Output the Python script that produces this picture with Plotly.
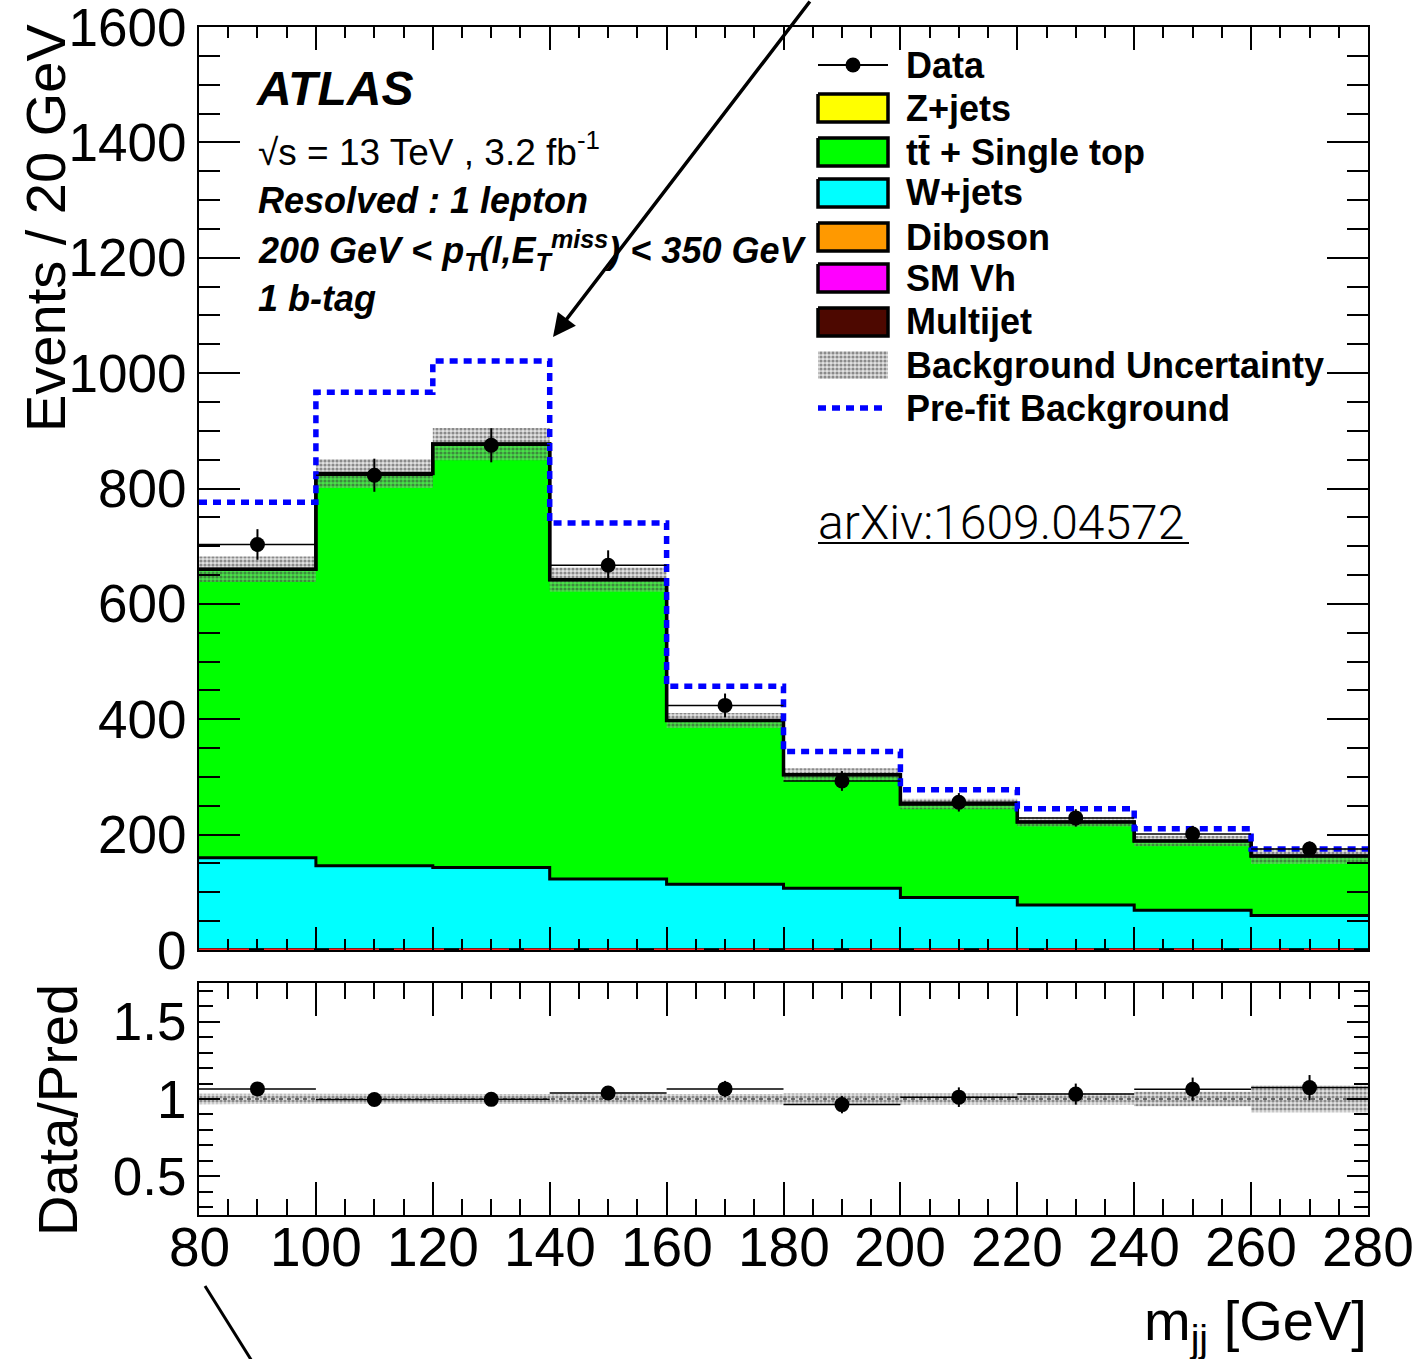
import numpy as np
import plotly.graph_objects as go

# ---- m_jj distribution, 1 lepton resolved, 1 b-tag ----
bin_edges = [80, 100, 120, 140, 160, 180, 200, 220, 240, 260, 280]
data_events = [703, 823, 875, 667, 424, 293, 256, 229, 201, 175]

zjets = [0, 0, 0, 0, 0, 0, 0, 0, 0, 0]
ttbar_single_top = [500, 680, 734, 519, 284, 197, 162, 144, 120, 103]
wjets = [160, 146, 143, 123, 114, 107, 91, 78, 69, 60]
diboson = [0, 0, 0, 0, 0, 0, 0, 0, 0, 0]
sm_vh = [0, 0, 0, 0, 0, 0, 0, 0, 0, 0]
multijet = [0, 0, 0, 0, 0, 0, 0, 0, 0, 0]
signal_outline = [0, 0, 0, 0, 0, 0, 0, 0, 0, 0]

bkg_uncertainty = [22, 25, 28, 21, 13, 11, 9, 8, 9, 14]
prefit_background = [776, 967, 1021, 740, 457, 344, 278, 245, 210, 175]

main_y_ticks = [0, 200, 400, 600, 800, 1000, 1200, 1400, 1600]
ratio_y_ticks = [0.5, 1, 1.5]
x_ticks = [80, 100, 120, 140, 160, 180, 200, 220, 240, 260, 280]

FONT = "Liberation Sans, Arial, Helvetica, sans-serif"
W, H = 1427, 1359
L, R, T, B = 199, 1368, 27, 1215       # plot frame in pixels
MAIN_BOTTOM, RATIO_TOP = 950, 983


def px(x):
    return (x - L) / (R - L)


def py(y):
    return (B - y) / (B - T)


def steps(vals):
    v = list(vals)
    return list(bin_edges), v + [v[-1]]


def band_polygon(lo, hi):
    xs, ys = [], []
    for i in range(len(hi)):
        xs += [bin_edges[i], bin_edges[i + 1]]
        ys += [hi[i], hi[i]]
    for i in reversed(range(len(lo))):
        xs += [bin_edges[i + 1], bin_edges[i]]
        ys += [lo[i], lo[i]]
    xs.append(xs[0])
    ys.append(ys[0])
    return xs, ys


edges = np.array(bin_edges, dtype=float)
centers = 0.5 * (edges[:-1] + edges[1:])
half_width = 0.5 * np.diff(edges)
data = np.array(data_events, dtype=float)

layers = [
    ("Multijet", multijet, "#4d0800"),
    ("SM Vh", sm_vh, "#ff00ff"),
    ("Diboson", diboson, "#ff9900"),
    ("W+jets", wjets, "#00ffff"),
    ("tt\u0304 + Single top", ttbar_single_top, "#00ff00"),
    ("Z+jets", zjets, "#ffff00"),
]
cum = np.cumsum(np.array([l[1] for l in layers], dtype=float), axis=0)
total = cum[-1]
unc = np.array(bkg_uncertainty, dtype=float)

BAND_PATTERN = dict(shape=".", fgcolor="#333333", bgcolor="rgba(180,180,180,0.4)",
                    size=4, solidity=0.5)

fig = go.Figure()

# stacked backgrounds, drawn top layer first so lower layers sit over it
for idx in reversed(range(len(layers))):
    name, _, color = layers[idx]
    xs, ys = steps(cum[idx])
    fig.add_trace(go.Scatter(x=xs, y=ys, mode="lines", line_shape="hv",
                             line=dict(color="black", width=3), fill="tozeroy",
                             fillcolor=color, name=name, showlegend=False,
                             xaxis="x", yaxis="y"))

xs, ys = steps(signal_outline)
fig.add_trace(go.Scatter(x=xs, y=ys, mode="lines", line_shape="hv",
                         line=dict(color="#ff2020", width=3, dash="50px,15px"),
                         showlegend=False, cliponaxis=False, xaxis="x", yaxis="y"))

# background uncertainty band
bx, by = band_polygon(total - unc, total + unc)
fig.add_trace(go.Scatter(x=bx, y=by, mode="lines", line=dict(width=0),
                         fill="toself", fillcolor="rgba(0,0,0,0)", fillpattern=BAND_PATTERN,
                         showlegend=False, xaxis="x", yaxis="y"))

# total background outline
xs, ys = steps(total)
fig.add_trace(go.Scatter(x=xs, y=ys, mode="lines", line_shape="hv",
                         line=dict(color="black", width=3.5), showlegend=False,
                         xaxis="x", yaxis="y"))

# pre-fit background
xs, ys = steps(prefit_background)
fig.add_trace(go.Scatter(x=xs, y=ys, mode="lines", line_shape="hv",
                         line=dict(color="#0000ff", width=5.5, dash="8px,6px"),
                         showlegend=False, xaxis="x", yaxis="y"))

# data
fig.add_trace(go.Scatter(x=centers, y=data, mode="markers",
                         marker=dict(color="black", size=15, symbol="circle"),
                         error_x=dict(type="data", array=half_width, color="black",
                                      thickness=1.5, width=0),
                         error_y=dict(type="data", array=np.sqrt(data), color="black",
                                      thickness=2, width=0),
                         showlegend=False, xaxis="x", yaxis="y"))

# ---- ratio panel ----
rel = unc / total
rx, ry = band_polygon(1 - rel, 1 + rel)
fig.add_trace(go.Scatter(x=rx, y=ry, mode="lines", line=dict(width=0),
                         fill="toself", fillcolor="rgba(0,0,0,0)", fillpattern=BAND_PATTERN,
                         showlegend=False, xaxis="x2", yaxis="y2"))
fig.add_trace(go.Scatter(x=[bin_edges[0], bin_edges[-1]], y=[1, 1], mode="lines",
                         line=dict(color="black", width=1, dash="4px,4px"),
                         showlegend=False, xaxis="x2", yaxis="y2"))
ratio = data / total
ratio_err = np.sqrt(data) / total
fig.add_trace(go.Scatter(x=centers, y=ratio, mode="markers",
                         marker=dict(color="black", size=15),
                         error_x=dict(type="data", array=half_width, color="black",
                                      thickness=1.5, width=0),
                         error_y=dict(type="data", array=ratio_err, color="black",
                                      thickness=2, width=0),
                         showlegend=False, xaxis="x2", yaxis="y2"))

# ---- legend, drawn on a pixel-scaled overlay ----
legend_rows = [65, 108, 152, 193, 237, 278, 322, 365, 408]
legend_labels = ["Data", "Z+jets", "tt\u0304 + Single top", "W+jets", "Diboson",
                 "SM Vh", "Multijet", "Background Uncertainty", "Pre-fit Background"]
SW_L, SW_R, SW_H = 818, 888, 28

fig.add_trace(go.Scatter(x=[SW_L, SW_R], y=[legend_rows[0]] * 2, mode="lines",
                         line=dict(color="black", width=2), showlegend=False,
                         xaxis="x3", yaxis="y3"))
fig.add_trace(go.Scatter(x=[(SW_L + SW_R) / 2], y=[legend_rows[0]], mode="markers",
                         marker=dict(color="black", size=15), showlegend=False,
                         xaxis="x3", yaxis="y3"))
box_colors = ["#ffff00", "#00ff00", "#00ffff", "#ff9900", "#ff00ff", "#4d0800"]
for row, col in zip(legend_rows[1:7], box_colors):
    y0, y1 = row - SW_H / 2, row + SW_H / 2
    fig.add_trace(go.Scatter(x=[SW_L, SW_R, SW_R, SW_L, SW_L], y=[y0, y0, y1, y1, y0],
                             mode="lines", fill="toself", fillcolor=col,
                             line=dict(color="black", width=3.5), showlegend=False,
                             xaxis="x3", yaxis="y3"))
row = legend_rows[7]
y0, y1 = row - SW_H / 2, row + SW_H / 2
fig.add_trace(go.Scatter(x=[SW_L, SW_R, SW_R, SW_L, SW_L], y=[y0, y0, y1, y1, y0],
                         mode="lines", fill="toself", fillcolor="rgba(0,0,0,0)",
                         fillpattern=BAND_PATTERN, line=dict(width=0), showlegend=False,
                         xaxis="x3", yaxis="y3"))
row = legend_rows[8]
fig.add_trace(go.Scatter(x=[SW_L, SW_R], y=[row, row], mode="lines",
                         line=dict(color="#0000ff", width=5.5, dash="8px,6px"),
                         showlegend=False, xaxis="x3", yaxis="y3"))

annotations = []
for row, lab in zip(legend_rows, legend_labels):
    annotations.append(dict(x=px(904), y=py(row), xref="paper", yref="paper",
                            text="<b>%s</b>" % lab, showarrow=False, xanchor="left",
                            yanchor="middle", font=dict(family=FONT, size=36, color="black")))

# ---- labels ----
def label(x, y, text, size, **kw):
    d = dict(x=px(x), y=py(y), xref="paper", yref="paper", text=text, showarrow=False,
             xanchor="left", yanchor="middle", font=dict(family=FONT, size=size, color="black"))
    d.update(kw)
    annotations.append(d)


label(254, 88, "<b><i>ATLAS</i></b>", 48)
label(256, 150, "\u221as = 13 TeV , 3.2 fb<sup>-1</sup>", 37)
label(256, 200, "<b><i>Resolved : 1 lepton</i></b>", 36)
label(256, 250, "<b><i>200 GeV &lt; p<sub>T</sub>(l,E<sub>T</sub><sup>miss</sup>) &lt; 350 GeV</i></b>", 36)
label(256, 298, "<b><i>1 b-tag</i></b>", 36)

annotations.append(dict(x=px(816), y=py(522), xref="paper", yref="paper",
                        text="arXiv:1609.04572", showarrow=False, xanchor="left",
                        yanchor="middle",
                        font=dict(family="Roboto, Lato, sans-serif", size=48,
                                  color="black", weight=300)))

# x tick labels of the ratio panel
for v in x_ticks:
    annotations.append(dict(x=v, y=py(1247), xref="x2", yref="paper", text=str(v),
                            showarrow=False, xanchor="center", yanchor="middle",
                            font=dict(family=FONT, size=55, color="black")))

# axis titles
annotations.append(dict(x=px(45), y=py(228), xref="paper", yref="paper",
                        text="Events / 20 GeV", textangle=-90, showarrow=False,
                        xanchor="center", yanchor="middle",
                        font=dict(family=FONT, size=56, color="black")))
annotations.append(dict(x=px(57), y=py(1110), xref="paper", yref="paper",
                        text="Data/Pred", textangle=-90, showarrow=False,
                        xanchor="center", yanchor="middle",
                        font=dict(family=FONT, size=56, color="black")))
annotations.append(dict(x=px(1369), y=py(1324), xref="paper", yref="paper",
                        text="m<sub>jj</sub> [GeV]", showarrow=False,
                        xanchor="right", yanchor="middle",
                        font=dict(family=FONT, size=56, color="black")))

# hand-drawn arrows
annotations.append(dict(x=px(553), y=py(337), xref="paper", yref="paper", text="",
                        showarrow=True, ax=258, ay=-345, axref="pixel", ayref="pixel",
                        arrowhead=2, arrowsize=1.3, arrowwidth=3.5, arrowcolor="black"))

shapes = [
    dict(type="line", xref="paper", yref="paper", x0=px(818), x1=px(1189),
         y0=py(543), y1=py(543), line=dict(color="black", width=2)),
    dict(type="line", xref="paper", yref="paper", x0=px(205), x1=px(255),
         y0=py(1286), y1=py(1366), line=dict(color="black", width=3)),
]

tick_font_y = dict(family=FONT, size=53, color="black")
main_frac = py(MAIN_BOTTOM)
ratio_frac = py(RATIO_TOP)

axis_common = dict(showline=True, linecolor="black", linewidth=2, mirror="ticks",
                   ticks="inside", tickcolor="black", tickwidth=2, showgrid=False,
                   zeroline=False, automargin=False)

fig.update_layout(
    width=W, height=H,
    margin=dict(l=L, r=W - R, t=T, b=H - B, pad=0, autoexpand=False),
    paper_bgcolor="white", plot_bgcolor="white",
    showlegend=False,
    xaxis=dict(domain=[0, 1], anchor="y", range=[80, 280], tickvals=x_ticks,
               showticklabels=False, ticklen=23,
               minor=dict(dtick=5, tick0=80, ticks="inside", ticklen=11,
                          tickwidth=2, tickcolor="black"),
               **axis_common),
    yaxis=dict(domain=[main_frac, 1], anchor="x", range=[0, 1600], tickvals=main_y_ticks,
               ticklen=41, tickfont=tick_font_y, ticklabelstandoff=0,
               ticklabeloverflow="allow",
               minor=dict(dtick=50, tick0=0, ticks="inside", ticklen=21,
                          tickwidth=2, tickcolor="black"),
               **axis_common),
    xaxis2=dict(domain=[0, 1], anchor="y2", range=[80, 280], tickvals=x_ticks,
                showticklabels=False, ticklen=33,
                minor=dict(dtick=5, tick0=80, ticks="inside", ticklen=16,
                           tickwidth=2, tickcolor="black"),
                **axis_common),
    yaxis2=dict(domain=[0, ratio_frac], anchor="x2", range=[0.25, 1.75],
                tickvals=ratio_y_ticks, ticktext=["0.5", "1", "1.5"], ticklen=21,
                tickfont=tick_font_y, ticklabelstandoff=0,
                minor=dict(dtick=0.1, tick0=0.5, ticks="inside", ticklen=14,
                           tickwidth=2, tickcolor="black"),
                **axis_common),
    xaxis3=dict(overlaying="x", anchor="y3", range=[L, R], visible=False),
    yaxis3=dict(overlaying="y", anchor="x3", range=[MAIN_BOTTOM, T], visible=False),
    annotations=annotations,
    shapes=shapes,
)

fig.write_html("out.html")
